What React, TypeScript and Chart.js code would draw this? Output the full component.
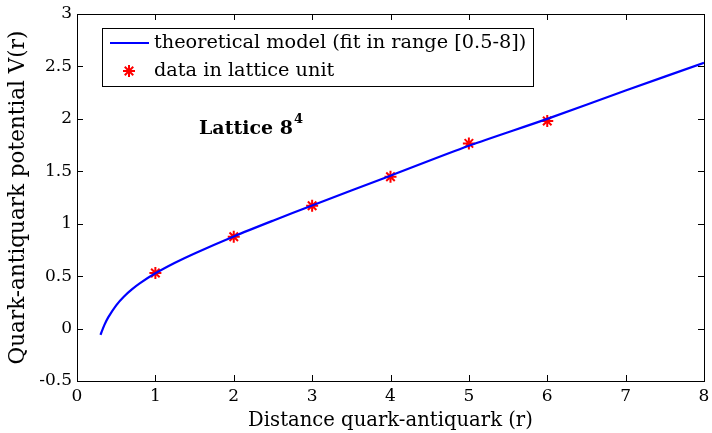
import React, { useEffect, useRef } from "react";
import { Chart, registerables } from "chart.js";

Chart.register(...registerables);

// Theoretical model curve
const modelR = [0.3, 0.35, 0.4, 0.5, 0.6, 0.7, 0.8, 1, 1.25, 1.5, 2, 2.5, 3, 4, 5, 6, 7, 8];
const modelV = [-0.06, 0.035, 0.109, 0.222, 0.306, 0.373, 0.431, 0.527, 0.628, 0.717, 0.879, 1.029, 1.174, 1.458, 1.743, 2.0, 2.27, 2.535];

// Lattice data
const dataR = [1, 2, 3, 4, 5, 6];
const dataV = [0.53, 0.876, 1.172, 1.448, 1.766, 1.979];

const xTicks = [0, 1, 2, 3, 4, 5, 6, 7, 8];
const yTicks = [-0.5, 0, 0.5, 1, 1.5, 2, 2.5, 3];

const lineLabel = "theoretical model (fit in range [0.5-8])";
const dataLabel = "data in lattice unit";
const annotation = "Lattice 8";
const annotationSup = "4";
const xTitle = "Distance quark-antiquark (r)";
const yTitle = "Quark-antiquark potential V(r)";

const FONT = "'DejaVu Serif', serif";

export default function App() {
  const ref = useRef<HTMLCanvasElement>(null);
  useEffect(() => {
    document.body.style.margin = "0";
    const canvas = ref.current!;
    const framePlugin = {
      id: "frame",
      afterDraw(chart: any) {
        const { ctx, chartArea: a, scales } = chart;
        ctx.save();
        ctx.strokeStyle = "#000";
        ctx.lineWidth = 1;
        ctx.strokeRect(Math.round(a.left) + 0.5, Math.round(a.top) + 0.5, Math.round(a.right - a.left), Math.round(a.bottom - a.top));
        const tl = 6;
        ctx.beginPath();
        for (const t of scales.x.ticks) {
          const px = Math.round(scales.x.getPixelForValue(t.value)) + 0.5;
          ctx.moveTo(px, a.bottom); ctx.lineTo(px, a.bottom - tl);
          ctx.moveTo(px, a.top); ctx.lineTo(px, a.top + tl);
        }
        for (const t of scales.y.ticks) {
          const py = Math.round(scales.y.getPixelForValue(t.value)) + 0.5;
          ctx.moveTo(a.left, py); ctx.lineTo(a.left + tl, py);
          ctx.moveTo(a.right, py); ctx.lineTo(a.right - tl, py);
        }
        ctx.stroke();

        // Legend
        ctx.font = `19.3px ${FONT}`;
        const tw = ctx.measureText(lineLabel).width;
        const bx = a.left + 25, by = a.top + 14;
        const bw = 52 + tw + 7, bh = 58;
        ctx.fillStyle = "#fff";
        ctx.fillRect(bx, by, bw, bh);
        ctx.strokeStyle = "#000";
        ctx.lineWidth = 1;
        ctx.strokeRect(Math.round(bx) + 0.5, Math.round(by) + 0.5, Math.round(bw), bh);
        ctx.strokeStyle = "#0000ff";
        ctx.lineWidth = 2;
        ctx.beginPath();
        ctx.moveTo(bx + 8, by + 15); ctx.lineTo(bx + 47, by + 15);
        ctx.stroke();
        ctx.fillStyle = "#000";
        ctx.textBaseline = "middle";
        ctx.textAlign = "left";
        ctx.fillText(lineLabel, bx + 52, by + 15);
        ctx.fillText(dataLabel, bx + 52, by + 43);
        // star marker
        const cx = bx + 27, cy = by + 43, r = 6;
        ctx.strokeStyle = "#ff0000";
        ctx.lineWidth = 2;
        ctx.beginPath();
        for (let k = 0; k < 4; k++) {
          const ang = (k * Math.PI) / 4;
          ctx.moveTo(cx - r * Math.cos(ang), cy - r * Math.sin(ang));
          ctx.lineTo(cx + r * Math.cos(ang), cy + r * Math.sin(ang));
        }
        ctx.stroke();

        // Annotation
        ctx.fillStyle = "#000";
        ctx.font = `bold 19px ${FONT}`;
        const ax = a.left + 122, ay = a.top + 115;
        ctx.fillText(annotation, ax, ay);
        const aw = ctx.measureText(annotation).width;
        ctx.font = `bold 13px ${FONT}`;
        ctx.fillText(annotationSup, ax + aw + 1, ay - 9);
        ctx.restore();
      },
    };
    const chart = new Chart(canvas, {
      type: "scatter",
      data: {
        datasets: [
          {
            label: lineLabel,
            data: modelR.map((x, i) => ({ x, y: modelV[i] })),
            showLine: true,
            borderColor: "#0000ff",
            borderWidth: 2.2,
            pointRadius: 0,
            tension: 0.3,
          },
          {
            label: dataLabel,
            data: dataR.map((x, i) => ({ x, y: dataV[i] })),
            showLine: false,
            pointStyle: "star",
            pointRadius: 6,
            borderColor: "#ff0000",
            backgroundColor: "#ff0000",
            borderWidth: 2,
          },
        ],
      },
      options: {
        animation: false,
        responsive: false,
        layout: { padding: { left: 6, top: 14, right: 6, bottom: 0 } },
        plugins: { legend: { display: false }, tooltip: { enabled: false } },
        scales: {
          x: {
            type: "linear",
            min: 0,
            max: 8,
            afterBuildTicks: (s: any) => { s.ticks = xTicks.map((v) => ({ value: v })); },
            afterFit: (s: any) => { s.height = 52; s.paddingRight = 0; s.paddingLeft = 0; },
            grid: { display: false, drawTicks: false },
            border: { display: false },
            ticks: { color: "#000", font: { family: FONT, size: 17 }, padding: 5, maxRotation: 0, callback: (v: any) => String(v) },
            title: { display: true, text: xTitle, color: "#000", font: { family: FONT, size: 19.6 }, padding: { top: 0, bottom: 0 } },
          },
          y: {
            type: "linear",
            min: -0.5,
            max: 3,
            afterBuildTicks: (s: any) => { s.ticks = yTicks.map((v) => ({ value: v })); },
            afterFit: (s: any) => { s.width = 71; s.paddingTop = 0; s.paddingBottom = 0; },
            grid: { display: false, drawTicks: false },
            border: { display: false },
            ticks: { color: "#000", font: { family: FONT, size: 17 }, padding: 5, callback: (v: any) => String(v) },
            title: { display: true, text: yTitle, color: "#000", font: { family: FONT, size: 21.5 }, padding: { top: 0, bottom: 0 } },
          },
        },
      },
      plugins: [framePlugin],
    });
    return () => chart.destroy();
  }, []);
  return (
    <div style={{ width: 712, height: 433 }}>
      <canvas ref={ref} width={712} height={433} style={{ display: "block" }} />
    </div>
  );
}
